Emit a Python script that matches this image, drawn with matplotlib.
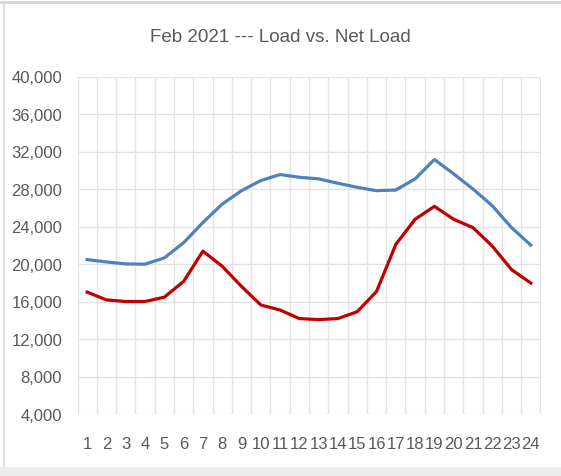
import matplotlib.pyplot as plt
from matplotlib.lines import Line2D
from matplotlib.patches import Rectangle

hours = list(range(1, 25))
load = [20470, 20220, 20010, 19980, 20650, 22270, 24420, 26390, 27820, 28900, 29540, 29250,
        29080, 28610, 28180, 27820, 27890, 29080, 31150, 29610, 28000, 26210, 23880, 22010]
net_load = [17000, 16170, 16000, 16000, 16460, 18140, 21370, 19760, 17610, 15630, 15090, 14180,
            14070, 14180, 14910, 17070, 22090, 24770, 26150, 24770, 23880, 21910, 19400, 17960]
y_ticks = list(range(4000, 40001, 4000))

plt.rcParams['font.family'] = ['Liberation Sans', 'DejaVu Sans']
grey = '#595959'

fig = plt.figure(figsize=(5.61, 4.77), dpi=100)
ax = fig.add_axes([77.5/561, 1-415/477, 463/561, 337.5/477])

ax.plot(hours, load, color='#4f81bd', lw=2.3, solid_joinstyle='round')
ax.plot(hours, net_load, color='#c00000', lw=2.3, solid_joinstyle='round')

ax.set_xlim(0.5, 24.5)
ax.set_ylim(4000, 40000)
ax.set_xticks(hours)
ax.set_xticklabels([str(h) for h in hours])
ax.set_yticks(y_ticks)
ax.set_yticklabels([f'{v:,}' for v in y_ticks])
ax.set_xticks([h + 0.5 for h in range(0, 25)], minor=True)
ax.tick_params(axis='both', which='both', length=0, labelsize=12, colors=grey)
ax.tick_params(axis='y', pad=11)
ax.tick_params(axis='x', pad=16)
ax.grid(True, axis='y', which='major', color='#e3e3e3', lw=1)
ax.grid(True, axis='x', which='minor', color='#e3e3e3', lw=1)
ax.set_axisbelow(True)
for s in ax.spines.values():
    s.set_visible(False)

fig.text(280/561, 1-37/477, 'Feb 2021 --- Load vs. Net Load', ha='center', va='center',
         fontsize=13.5, color=grey)

# screenshot frame
fig.add_artist(Line2D([0, 1], [1-3/477, 1-3/477], color='#d4d4d4', lw=2))
fig.add_artist(Line2D([4/561, 4/561], [1-5/477, 1-467/477], color='#e0e0e0', lw=1.5))
fig.add_artist(Rectangle((0, 0), 1, 1-468/477, color='#ececec', lw=0))

fig.savefig('out.png', dpi=100)
